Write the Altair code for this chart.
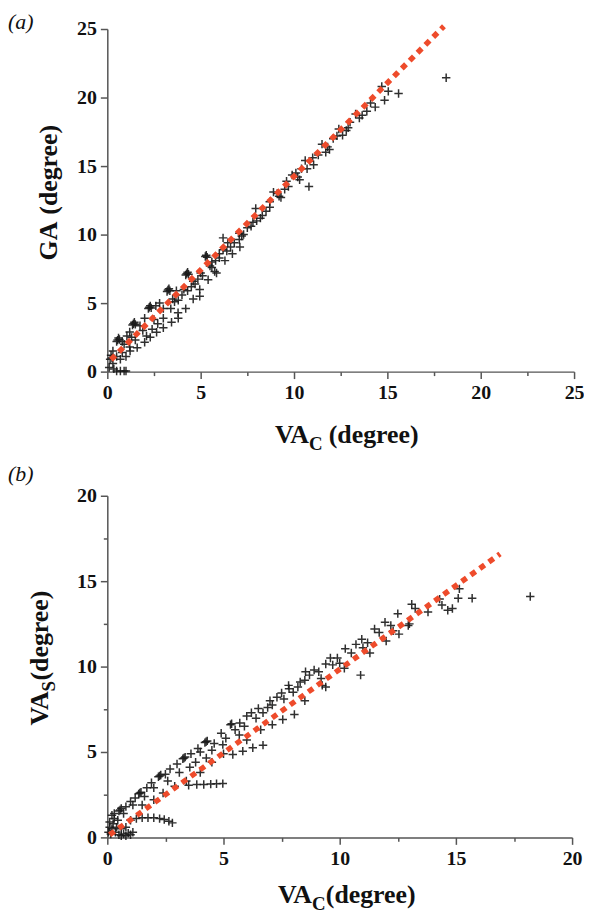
import altair as alt
import pandas as pd

# ---------------- panel (a) data ----------------
a_x = [0.10, 0.15, 0.20, 0.25, 0.30, 0.50, 0.70, 0.90, 1.00, 0.35,
       0.55, 0.60, 0.65, 0.50, 1.40, 1.45, 1.50, 1.35, 2.25, 2.30, 2.35, 2.20,
       3.25, 3.30, 3.35, 3.20, 4.25, 4.30, 4.35, 4.20, 5.25, 5.30, 5.35,
       0.80, 1.05, 1.20, 1.75, 2.00, 2.60, 2.80, 3.50, 3.70, 4.10, 4.60, 4.85,
       5.50, 5.80, 6.20, 6.45, 6.20, 7.07, 7.07, 7.50, 8.00, 7.95, 8.50, 8.90,
       9.30, 9.50, 9.90, 10.30, 10.60, 11.05, 11.50, 11.90, 12.40, 12.60, 13.00,
       13.30, 13.65, 14.35, 14.70, 14.85, 15.05, 15.60, 18.15, 10.80,
       0.50, 0.80, 1.20, 1.50, 2.10, 2.40, 2.70, 3.00, 3.40, 3.80, 4.30, 4.70,
       5.10, 5.60, 6.00, 6.40, 6.80, 7.30, 7.70, 8.20, 8.70, 9.20, 9.70, 10.20,
       10.70, 11.30, 11.80, 12.30, 12.90, 13.50,
       0.70, 1.00, 1.22, 1.60, 2.00, 2.30, 2.64, 3.00, 3.44, 3.79, 3.80, 4.20,
       4.60, 4.95, 4.95, 5.40, 5.75, 5.85, 6.30, 6.70, 7.10,
       0.30, 0.90, 1.30, 1.90, 2.50, 3.00, 3.60, 4.00, 4.50, 5.00, 5.60, 6.00,
       6.60, 7.20, 7.80, 8.30, 8.70, 9.10, 9.60, 10.10, 10.40, 11.00, 11.70,
       12.10, 12.80, 13.90, 14.10]
a_y = [0.30, 0.90, 1.20, 1.00, 0.60, 0.05, 0.05, 0.05, 0.05, 0.20,
       2.30, 2.45, 2.35, 2.20, 3.50, 3.60, 3.45, 3.40, 4.70, 4.80, 4.65, 4.60,
       5.95, 6.05, 5.90, 5.85, 7.15, 7.25, 7.10, 7.05, 8.40, 8.50, 8.35,
       2.20, 2.60, 2.90, 3.35, 3.90, 4.80, 5.00, 5.30, 5.90, 6.00, 6.60, 6.75,
       7.70, 8.10, 8.90, 9.40, 9.76, 10.10, 9.64, 10.50, 11.00, 11.90, 11.70, 13.10,
       12.70, 13.30, 14.35, 14.00, 15.40, 15.10, 16.60, 16.20, 17.70, 17.25, 18.20,
       18.80, 18.70, 19.30, 20.80, 19.80, 20.45, 20.30, 21.45, 13.50,
       1.10, 1.40, 1.80, 2.30, 2.60, 3.10, 3.50, 3.90, 4.60, 5.20, 5.90, 6.40,
       7.00, 7.60, 8.30, 8.80, 9.40, 10.00, 10.60, 11.20, 12.00, 12.80, 13.50, 14.20,
       14.80, 15.80, 16.40, 17.20, 17.80, 18.50,
       0.90, 1.10, 1.50, 1.75, 2.15, 2.50, 2.87, 3.20, 3.60, 4.30, 3.90, 4.60,
       5.30, 5.50, 6.00, 6.70, 7.30, 7.20, 8.10, 8.60, 9.10,
       1.50, 2.00, 2.50, 3.00, 3.80, 4.60, 5.10, 5.60, 6.20, 7.20, 8.00, 8.60,
       9.10, 9.90, 10.90, 11.40, 12.40, 13.00, 13.90, 14.50, 14.80, 15.60, 16.00,
       17.00, 17.60, 19.00, 19.60]
a_line_x = [0.2, 18.03]
a_line_y = [0.87, 25.2]
a_ticks = [0, 2.5, 5, 7.5, 10, 12.5, 15, 17.5, 20, 22.5, 25]

# ---------------- panel (b) data ----------------
b_x = [0.05, 0.10, 0.10, 0.15, 0.20, 0.25, 0.30, 0.35, 0.40, 0.50, 0.60, 0.70,
       0.80, 0.90, 1.00, 1.10, 0.45,
       0.55, 0.60, 0.50, 1.40, 1.45, 1.35, 2.25, 2.30, 2.20, 3.30, 3.35, 3.25,
       4.25, 4.30, 4.20, 5.30, 5.35, 6.50, 7.50, 8.50, 9.40,
       0.80, 1.00, 1.20, 1.70, 1.90, 2.50, 2.70, 3.00, 3.55, 3.60, 3.90, 4.26,
       4.60, 4.97, 4.90, 5.68, 5.70, 6.00, 6.40, 6.90, 7.10, 7.30, 7.82, 8.00,
       8.30, 8.53, 8.70, 9.10, 9.70, 9.90, 10.24, 10.50, 10.95, 11.20, 11.50,
       11.95, 12.30, 12.50, 12.95, 13.10, 13.25, 13.80, 14.30, 14.40, 14.65,
       14.85, 15.10, 15.15, 15.70, 18.20,
       1.50, 2.00, 2.40, 2.90, 3.40, 4.00, 4.50, 5.00, 5.40, 5.83, 6.26, 6.70,
       6.00, 6.60, 7.10, 7.55, 8.05, 8.50, 9.25, 9.40, 10.20, 10.90, 11.30,
       12.00, 12.55, 13.00,
       3.50, 3.85, 4.15, 4.45, 4.70, 4.97,
       1.00, 1.25, 1.50, 1.75, 2.00, 2.25, 2.45, 2.65, 2.80,
       0.70, 1.10, 1.60, 2.00, 2.60, 3.10, 3.80, 4.00, 4.50, 5.10, 5.50, 5.90,
       6.20, 6.70, 7.00, 7.60, 7.80, 8.20, 8.90, 9.20, 9.60, 10.00, 10.70,
       11.00, 11.70, 12.20,
       0.20, 0.30, 0.60, 0.80]
b_y = [0.30, 0.60, 0.90, 0.20, 0.50, 0.80, 1.10, 0.30, 0.60, 0.15, 0.10, 0.20,
       0.10, 0.25, 0.15, 0.30, 1.00,
       1.60, 1.70, 1.55, 2.60, 2.65, 2.55, 3.60, 3.65, 3.55, 4.65, 4.70, 4.60,
       5.60, 5.65, 5.55, 6.60, 6.65, 7.55, 8.45, 9.20, 10.15,
       1.80, 2.10, 2.30, 2.90, 3.20, 3.70, 4.00, 4.30, 4.10, 4.90, 5.20, 4.65,
       5.50, 5.43, 6.10, 6.00, 6.70, 7.10, 6.98, 7.60, 7.75, 8.20, 8.70, 8.50,
       9.10, 9.70, 9.50, 9.70, 10.10, 10.50, 11.05, 10.80, 11.60, 11.40, 12.20,
       12.60, 12.10, 13.10, 12.40, 13.65, 13.40, 13.20, 13.95, 13.60, 13.30,
       13.40, 14.00, 14.55, 14.00, 14.10,
       1.90, 2.20, 2.60, 3.00, 3.30, 3.80, 4.40, 4.90, 4.85, 5.05, 5.25, 5.40,
       5.70, 6.30, 6.60, 6.90, 7.20, 8.00, 8.90, 8.80, 9.90, 9.50, 10.80,
       11.50, 11.90, 12.50,
       3.05, 3.10, 3.10, 3.12, 3.14, 3.15,
       1.00, 1.10, 1.15, 1.15, 1.15, 1.10, 1.05, 0.95, 0.85,
       1.40, 1.90, 2.40, 2.90, 3.30, 3.80, 4.40, 5.00, 5.10, 5.80, 6.30, 6.50,
       7.30, 7.30, 8.00, 8.10, 8.90, 8.80, 9.80, 9.30, 10.50, 10.20, 11.30,
       11.10, 12.00, 12.40,
       1.30, 1.40, 0.50, 0.60]
b_line_x = [0.1, 16.9]
b_line_y = [0.15, 16.6]
b_ticks = [0, 2.5, 5, 7.5, 10, 12.5, 15, 17.5, 20]

# ---------------- styling ----------------
SERIF = "Liberation Serif"
RED = "#EE4B2B"
PLUS = "M-1,0L1,0M0,-1L0,1"
TICK_SIZE = {"condition": {"test": "datum.value % 5 === 0", "value": 7}, "value": 4}
LABELS = "datum.value % 5 === 0 ? datum.label : ''"

def make_axis(ticks):
    return alt.Axis(values=ticks, labelExpr=LABELS, tickSize=TICK_SIZE, title=None,
                    grid=False, domainColor="#555555", domainWidth=1.5,
                    tickColor="#555555", tickWidth=1.5, labelFont=SERIF,
                    labelFontWeight="bold", labelFontSize=20, labelColor="#111111",
                    labelPadding=4, labelOverlap=False, labelFlush=False)

def text(t, x, y, size=26, align="left", baseline="alphabetic", angle=0,
         style="normal", weight="bold"):
    return alt.Chart(pd.DataFrame({"t": [t]})).mark_text(
        font=SERIF, fontSize=size, fontWeight=weight, fontStyle=style,
        align=align, baseline=baseline, angle=angle, color="#111111"
    ).encode(text="t:N", x=alt.value(x), y=alt.value(y))

def panel(xs, ys, lx, ly, dom, ticks):
    xsc = alt.Scale(domain=[0, dom], nice=False)
    ysc = alt.Scale(domain=[0, dom], nice=False)
    pts = alt.Chart(pd.DataFrame({"x": xs, "y": ys})).mark_point(
        shape=PLUS, size=72, filled=False, stroke="#1a1a1a", strokeWidth=1.5,
        opacity=0.9
    ).encode(x=alt.X("x:Q", scale=xsc, axis=make_axis(ticks)),
             y=alt.Y("y:Q", scale=ysc, axis=make_axis(ticks)))
    line = alt.Chart(pd.DataFrame({"x": lx, "y": ly})).mark_line(
        color=RED, strokeWidth=5.5, strokeDash=[6, 5.2], strokeCap="butt"
    ).encode(x=alt.X("x:Q", scale=xsc), y=alt.Y("y:Q", scale=ysc))
    return pts, line

# panel (a)
pa, la = panel(a_x, a_y, a_line_x, a_line_y, 25, a_ticks)
chart_a = alt.layer(
    pa, la,
    text("(a)", -100, -17, size=22, baseline="top", style="italic", weight="normal"),
    # x title  VA_C (degree)
    text("VA", 203, 417, align="right"),
    text("C", 203, 424, size=19),
    text("(degree)", 223, 417),
    # y title  GA (degree)
    text("GA", -51, 194, align="right", angle=270),
    text("(degree)", -51, 187, angle=270),
).properties(width=470, height=345)

# panel (b)
pb, lb = panel(b_x, b_y, b_line_x, b_line_y, 20, b_ticks)
chart_b = alt.layer(
    pb, lb,
    text("(b)", -100, -32, size=22, baseline="top", style="italic", weight="normal"),
    # x title  VA_C(degree)
    text("VA", 206, 410, align="right"),
    text("C", 206, 417, size=19),
    text("(degree)", 220, 410),
    # y title  VA_S(degree)
    text("VA", -60, 197, align="right", angle=270),
    text("S", -53, 197, size=19, angle=270),
    text("(degree)", -60, 186, angle=270),
).properties(width=468, height=344)

chart = alt.vconcat(chart_a, chart_b, spacing=125, bounds="flush").properties(
    padding=0, background="white"
).configure_view(stroke=None)

chart.save("out.html", embed_options={"renderer": "svg", "actions": False})
